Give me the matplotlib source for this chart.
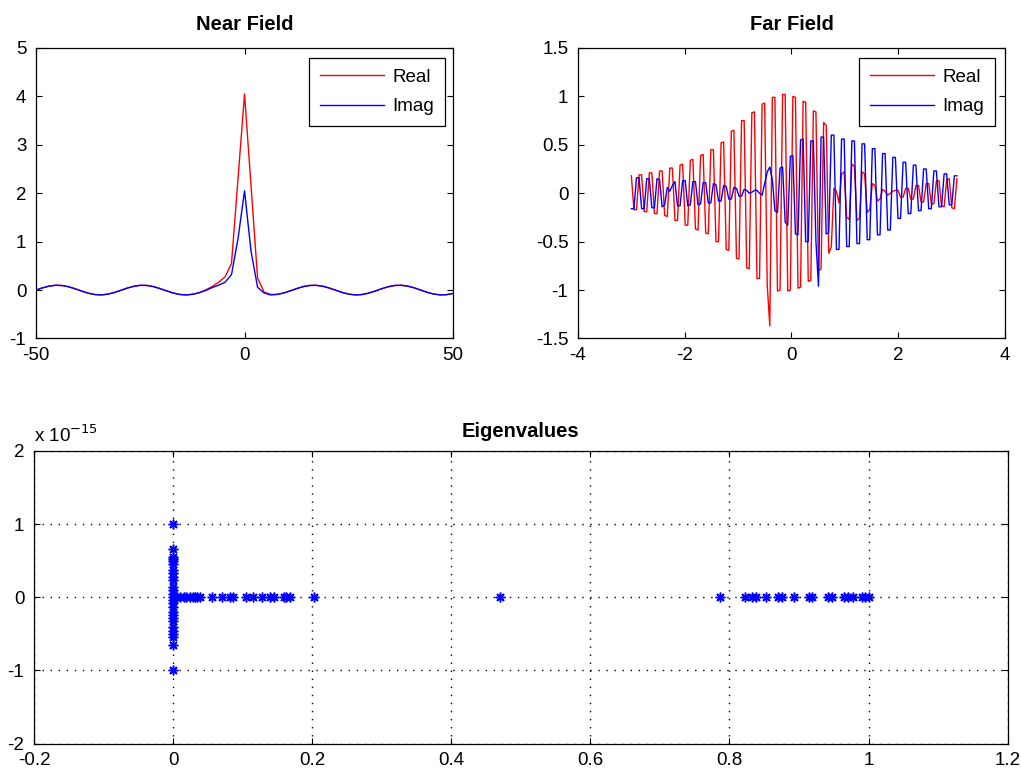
import numpy as np
import matplotlib.pyplot as plt

plt.rcParams['font.family'] = ['Liberation Sans', 'DejaVu Sans']
plt.rcParams['axes.unicode_minus'] = False

# ---- near field: 65 samples over [-50, 50]
near_x = np.linspace(-50, 50, 65)
near_real = [0.0, 0.046, 0.082, 0.099, 0.094, 0.068, 0.027, -0.021, -0.064, -0.092,
             -0.1, -0.085, -0.051, -0.006, 0.041, 0.078, 0.098, 0.096, 0.072, 0.032,
             -0.015, -0.059, -0.09, -0.1, -0.088, -0.056, 0.0, 0.07, 0.16, 0.27,
             0.55, 2.3, 4.05, 2.15, 0.25, -0.04, -0.09, -0.09, -0.061, -0.017,
             0.03, 0.071, 0.095, 0.098, 0.079, 0.043, -0.004, -0.05, -0.084, -0.1,
             -0.093, -0.065, -0.023, 0.025, 0.067, 0.094, 0.099, 0.083, 0.048, 0.002,
             -0.045, -0.081, -0.099, -0.095, -0.069]
near_imag = [0.0, 0.046, 0.082, 0.099, 0.094, 0.068, 0.027, -0.021, -0.064, -0.092,
             -0.1, -0.085, -0.051, -0.006, 0.041, 0.078, 0.098, 0.096, 0.072, 0.032,
             -0.015, -0.059, -0.09, -0.1, -0.088, -0.056, -0.011, 0.05, 0.1, 0.16,
             0.32, 1.06, 2.05, 0.8, 0.06, -0.06, -0.1, -0.09, -0.061, -0.017,
             0.03, 0.071, 0.095, 0.098, 0.079, 0.043, -0.004, -0.05, -0.084, -0.1,
             -0.093, -0.065, -0.023, 0.025, 0.067, 0.094, 0.099, 0.083, 0.048, 0.002,
             -0.045, -0.081, -0.099, -0.095, -0.069]

# ---- far field: 128 samples
far_x = np.linspace(-3.0, 3.1, 128)
far_real = [0.18, -0.17, -0.17, 0.19, 0.19, -0.19, -0.19, 0.21, 0.21, -0.21,
            -0.21, 0.23, 0.23, -0.23, -0.24, 0.26, 0.26, -0.28, -0.28, 0.29,
            0.30, -0.33, -0.33, 0.34, 0.35, -0.37, -0.38, 0.39, 0.40, -0.41,
            -0.42, 0.45, 0.45, -0.50, -0.50, 0.52, 0.53, -0.58, -0.59, 0.64,
            0.65, -0.67, -0.68, 0.75, 0.75, -0.77, -0.78, 0.83, 0.84, -0.88,
            -0.88, 0.92, 0.93, -0.95, -1.37, 0.99, 0.99, -1.01, -1.00, 1.02,
            1.02, -1.01, -1.00, 1.00, 0.99, -0.98, -0.97, 0.95, 0.94, -0.91,
            -0.90, 0.85, 0.84, -0.80, -0.78, 0.73, 0.70, -0.62, -0.55, 0.05,
            0.02, -0.10, 0.20, 0.22, -0.25, -0.27, 0.30, 0.28, -0.28, -0.26,
            0.22, 0.20, -0.20, -0.17, 0.10, 0.08, -0.08, -0.06, 0.04, 0.02,
            -0.02, 0.00, 0.02, 0.03, 0.03, -0.04, -0.04, 0.05, 0.05, -0.06,
            -0.06, 0.08, 0.08, -0.09, -0.09, 0.10, 0.10, -0.11, -0.11, 0.13,
            0.13, -0.13, -0.14, 0.14, 0.15, -0.15, -0.16, 0.15]
far_imag = [-0.16, -0.16, 0.16, 0.16, -0.16, -0.16, 0.15, 0.15, -0.15, -0.15,
            0.15, 0.14, -0.14, -0.12, 0.06, 0.02, 0.08, 0.12, -0.13, -0.13,
            0.13, 0.13, -0.13, -0.12, 0.12, 0.12, -0.12, -0.11, 0.11, 0.11,
            -0.10, -0.10, 0.10, 0.09, -0.08, -0.08, 0.08, 0.07, -0.06, -0.06,
            0.06, 0.05, -0.03, -0.03, 0.04, 0.03, 0.00, 0.01, 0.03, 0.03,
            0.00, -0.02, 0.10, 0.22, 0.27, 0.14, -0.18, -0.20, 0.26, 0.27,
            -0.30, -0.33, 0.38, 0.39, -0.42, -0.43, 0.55, 0.56, -0.50, -0.50,
            0.54, 0.54, -0.50, -0.96, 0.58, 0.58, -0.42, -0.41, 0.60, 0.60,
            -0.58, -0.58, 0.56, 0.56, -0.55, -0.55, 0.54, 0.54, -0.52, -0.52,
            0.51, 0.51, -0.48, -0.48, 0.46, 0.46, -0.43, -0.43, 0.41, 0.41,
            -0.38, -0.38, 0.37, 0.37, -0.26, -0.26, 0.32, 0.32, -0.21, -0.21,
            0.29, 0.29, -0.18, -0.18, 0.25, 0.25, -0.16, -0.16, 0.23, 0.23,
            -0.14, -0.14, 0.20, 0.20, -0.12, -0.12, 0.18, 0.18]

# ---- eigenvalues (imaginary part in units of 1e-15)
eig_real = [0.0] * 26 + [
    0.0, 0.005, 0.01, 0.015, 0.019, 0.024, 0.028, 0.032, 0.035, 0.039,
    0.056, 0.070, 0.082, 0.086, 0.105, 0.115, 0.128, 0.140, 0.145, 0.159,
    0.163, 0.168, 0.202, 0.47, 0.787, 0.822, 0.832, 0.838, 0.853, 0.870,
    0.875, 0.893, 0.915, 0.918, 0.942, 0.947, 0.965, 0.971, 0.978, 0.990,
    0.995, 1.0]
eig_imag = [1.0, 0.66, 0.55, 0.52, 0.49, 0.45, 0.37, 0.33, 0.27, 0.24,
            0.14, 0.10, 0.05, -0.04, -0.08, -0.13, -0.2, -0.24, -0.29, -0.33,
            -0.41, -0.46, -0.5, -0.54, -0.65, -1.0] + [0.0] * 42

FS = 13.5


def style_axes(ax):
    ax.tick_params(direction='in', length=4, width=0.8, labelsize=FS,
                   top=True, right=True)
    ax.tick_params(axis='x', pad=6)
    ax.tick_params(axis='y', pad=7)
    for s in ax.spines.values():
        s.set_linewidth(0.9)
        s.set_color('black')


def add_legend(ax, right):
    leg = ax.legend(loc='upper right', bbox_to_anchor=(right, 0.967), borderaxespad=0,
                    fontsize=FS, handlelength=3.4, handletextpad=0.45, borderpad=0.58,
                    labelspacing=0.68, fancybox=False, framealpha=1, edgecolor='black')
    leg.get_frame().set_linewidth(0.9)


fig = plt.figure(figsize=(10.21, 7.70), dpi=100)

# Near Field
ax1 = fig.add_axes([0.0353, 0.5604, 0.4084, 0.3773])
ax1.plot(near_x, near_real, color='red', lw=1.0, label='Real')
ax1.plot(near_x, near_imag, color='blue', lw=1.0, label='Imag')
ax1.set_xlim(-50, 50)
ax1.set_ylim(-1, 5)
ax1.set_xticks([-50, 0, 50])
ax1.set_yticks([-1, 0, 1, 2, 3, 4, 5])
ax1.set_title('Near Field', fontsize=14.5, fontweight='bold', pad=13)
style_axes(ax1)
add_legend(ax1, 0.981)

# Far Field
ax2 = fig.add_axes([0.5661, 0.5604, 0.4182, 0.3773])
ax2.plot(far_x, far_real, color='red', lw=1.0, label='Real')
ax2.plot(far_x, far_imag, color='blue', lw=1.0, label='Imag')
ax2.set_xlim(-4, 4)
ax2.set_ylim(-1.5, 1.5)
ax2.set_xticks([-4, -2, 0, 2, 4])
ax2.set_yticks([-1.5, -1, -0.5, 0, 0.5, 1, 1.5])
ax2.set_yticklabels(['-1.5', '-1', '-0.5', '0', '0.5', '1', '1.5'])
ax2.set_title('Far Field', fontsize=14.5, fontweight='bold', pad=13)
style_axes(ax2)
add_legend(ax2, 0.977)

# Eigenvalues
ax3 = fig.add_axes([0.0333, 0.0342, 0.9536, 0.3803])
ax3.plot(eig_real, eig_imag, linestyle='none', marker=(8, 2, 0), ms=7, mew=1.1,
         color='blue')
ax3.set_xlim(-0.2, 1.2)
ax3.set_ylim(-2, 2)
ax3.set_xticks([-0.2, 0, 0.2, 0.4, 0.6, 0.8, 1.0, 1.2])
ax3.set_xticklabels(['-0.2', '0', '0.2', '0.4', '0.6', '0.8', '1', '1.2'])
ax3.set_yticks([-2, -1, 0, 1, 2])
ax3.grid(True, color='black', linestyle=(0, (1, 4.8)), linewidth=1.0)
ax3.set_axisbelow(True)
ax3.set_title('Eigenvalues', fontsize=14.5, fontweight='bold', pad=10)
ax3.text(0.0, 1.015, r'x 10$^{-15}$', transform=ax3.transAxes, fontsize=FS,
         ha='left', va='bottom')
style_axes(ax3)

fig.savefig('out.png', dpi=100)
